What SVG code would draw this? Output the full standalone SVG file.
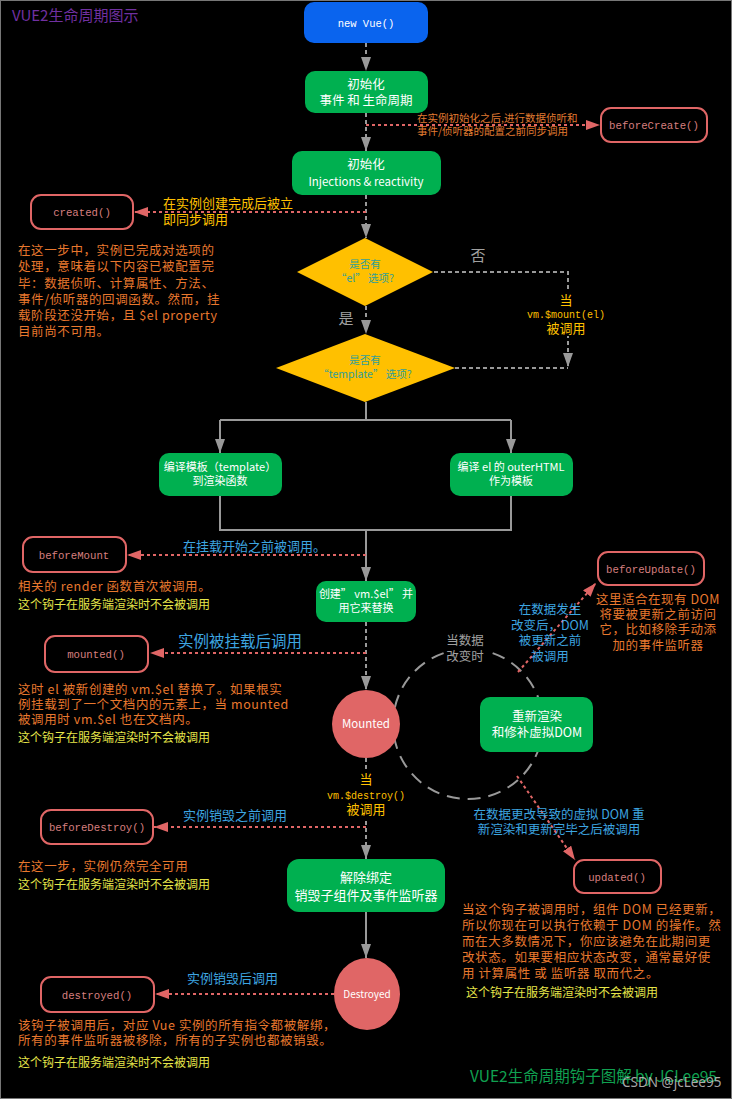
<svg xmlns="http://www.w3.org/2000/svg" width="732" height="1099" viewBox="0 0 732 1099">
<defs>
<marker id="ag" markerUnits="userSpaceOnUse" markerWidth="14" markerHeight="10" refX="14" refY="5" orient="auto"><path d="M0,0 L14,5 L0,10 z" fill="#999"/></marker>
<marker id="ap" markerUnits="userSpaceOnUse" markerWidth="14" markerHeight="10" refX="14" refY="5" orient="auto"><path d="M0,0 L14,5 L0,10 z" fill="#e06666"/></marker>
</defs>
<style>
text{font-family:"Noto Sans CJK SC","Noto Sans",sans-serif}
.box{fill:#00b050}
.hook{fill:#000;stroke:#e06666;stroke-width:2}
.hk{font-family:"Liberation Mono","DejaVu Sans Mono",monospace;font-size:10.7px;fill:#d67f7f;text-anchor:middle}
.mono{font-family:"Liberation Mono","DejaVu Sans Mono",monospace}
.wt{fill:#fff;font-size:12.5px;text-anchor:middle}
.ws{fill:#fff;font-size:11px;text-anchor:middle}
.or{fill:#e8782e;font-size:12.5px;letter-spacing:0.6px}
.orc{fill:#e8782e;font-size:12.5px;letter-spacing:0.5px;text-anchor:middle}
.yl{fill:#ffc000;font-size:13px}
.ylc{fill:#ffc000;font-size:13px;text-anchor:middle}
.ss{fill:#e6e64a;font-size:12px}
.bl{fill:#3da5e0;font-size:13px}
.blc{fill:#3da5e0;font-size:12.5px;text-anchor:middle}
.dt{fill:#2f9e98;font-size:10.5px;text-anchor:middle}
.gl{fill:#a0a0a0;text-anchor:middle}
.gd{stroke:#999;stroke-width:2;stroke-dasharray:4 3;fill:none}
.gs{stroke:#999;stroke-width:2;fill:none}
.pd{stroke:#e06666;stroke-width:2;stroke-dasharray:3 3;fill:none}
</style>
<rect x="0.5" y="0.5" width="731" height="1098" fill="#000" stroke="#777"/>
<text x="12" y="21" font-size="15" fill="#7030a0">VUE2生命周期图示</text>

<g id="connectors">
<line class="gd" x1="366" y1="43" x2="366" y2="71" marker-end="url(#ag)"/>
<line class="gd" x1="366" y1="113" x2="366" y2="151" marker-end="url(#ag)"/>
<line class="pd" x1="366" y1="125" x2="600" y2="125" marker-end="url(#ap)"/>
<line class="gd" x1="366" y1="195" x2="366" y2="238" marker-end="url(#ag)"/>
<line class="pd" x1="366" y1="212" x2="134" y2="212" marker-end="url(#ap)"/>
<line class="gd" x1="366" y1="306" x2="366" y2="334" marker-end="url(#ag)"/>
<path class="gd" d="M434,272 H568 V367" marker-end="url(#ag)"/>
<line class="gd" x1="455" y1="368" x2="568" y2="368"/>
<path class="gs" d="M366,402 V420 M220,420 H511"/>
<line class="gs" x1="220" y1="420" x2="220" y2="453" marker-end="url(#ag)"/>
<line class="gs" x1="511" y1="420" x2="511" y2="453" marker-end="url(#ag)"/>
<path class="gs" d="M220,496 V530 H511 V496"/>
<line class="gs" x1="366" y1="530" x2="366" y2="581" marker-end="url(#ag)"/>
<line class="pd" x1="366" y1="555" x2="127" y2="555" marker-end="url(#ap)"/>
<line class="gd" x1="366" y1="622" x2="366" y2="690" marker-end="url(#ag)"/>
<line class="pd" x1="366" y1="653" x2="150" y2="653" marker-end="url(#ap)"/>
<circle cx="468" cy="724" r="75" fill="none" stroke="#999" stroke-width="2" stroke-dasharray="13 8"/>
<line class="pd" x1="518" y1="672" x2="596" y2="583" marker-end="url(#ap)"/>
<line class="pd" x1="517" y1="776" x2="575" y2="860" marker-end="url(#ap)"/>
<line class="gd" x1="366" y1="758" x2="366" y2="859" marker-end="url(#ag)"/>
<line class="pd" x1="366" y1="827" x2="154" y2="827" marker-end="url(#ap)"/>
<line class="gs" x1="366" y1="912" x2="366" y2="958" marker-end="url(#ag)"/>
<line class="pd" x1="334" y1="994" x2="155" y2="994" marker-end="url(#ap)"/>

<text x="417" y="122" fill="#e07b30" font-size="10.5">在实例初始化之后,进行数据侦听和</text>
<text x="417" y="135" fill="#e07b30" font-size="10.5">事件/侦听器的配置之前同步调用</text>
<text class="yl" x="163" y="208">在实例创建完成后被立</text>
<text class="yl" x="163" y="224">即同步调用</text>
<text class="gl" x="478" y="261" font-size="15">否</text>
<text class="gl" x="346" y="324" font-size="15">是</text>
<rect x="526" y="290" width="84" height="46" fill="#000"/>
<text class="ylc" x="566" y="305">当</text>
<text class="ylc mono" x="566" y="318" style="font-size:10px">vm.$mount(el)</text>
<text class="ylc" x="566" y="333">被调用</text>
<text class="bl" x="183" y="551">在挂载开始之前被调用。</text>
<text class="bl" x="178" y="647" style="font-size:15.5px">实例被挂载后调用</text>
<rect x="444" y="648" width="44" height="17" fill="#000"/>
<text class="gl" x="465" y="645" font-size="12.5">当数据</text>
<text class="gl" x="465" y="661" font-size="12.5">改变时</text>
<text class="blc" x="550" y="614">在数据发生</text>
<text class="blc" x="550" y="630">改变后，DOM</text>
<text class="blc" x="550" y="645">被更新之前</text>
<text class="blc" x="550" y="661">被调用</text>
<text class="blc" x="559" y="819">在数据更改导致的虚拟 DOM 重</text>
<text class="blc" x="559" y="834">新渲染和更新完毕之后被调用</text>
<rect x="326" y="771" width="82" height="47" fill="#000"/>
<text class="ylc" x="366" y="784">当</text>
<text class="ylc mono" x="366" y="799" style="font-size:10px">vm.$destroy()</text>
<text class="ylc" x="366" y="814">被调用</text>
<text class="bl" x="183" y="820">实例销毁之前调用</text>
<text class="bl" x="187" y="983">实例销毁后调用</text>
</g>

<g id="new-vue">
<rect x="304" y="2" width="124" height="41" rx="10" fill="#0a64ee"/>
<text class="ws mono" x="366" y="27" style="font-size:10.5px">new Vue()</text>
</g>
<g id="init-events">
<rect class="box" x="305" y="71" width="123" height="42" rx="10"/>
<text class="wt" x="366" y="89">初始化</text>
<text class="wt" x="366" y="105">事件 和 生命周期</text>
</g>
<g id="init-injections">
<rect class="box" x="292" y="151" width="149" height="44" rx="10"/>
<text class="wt" x="366" y="169">初始化</text>
<text class="wt" x="366" y="186" style="font-size:11.5px">Injections &amp; reactivity</text>
</g>
<g id="beforeCreate">
<rect class="hook" x="601" y="108" width="106" height="34" rx="10"/>
<text class="hk" x="654" y="129">beforeCreate()</text>
</g>
<g id="created">
<rect class="hook" x="31" y="195" width="102" height="34" rx="10"/>
<text class="hk" x="82" y="216">created()</text>
<text class="or" x="18" y="255">在这一步中，实例已完成对选项的</text>
<text class="or" x="18" y="271">处理，意味着以下内容已被配置完</text>
<text class="or" x="18" y="288">毕：数据侦听、计算属性、方法、</text>
<text class="or" x="18" y="304">事件/侦听器的回调函数。然而，挂</text>
<text class="or" x="18" y="320">载阶段还没开始，且 $el property</text>
<text class="or" x="18" y="336">目前尚不可用。</text>
</g>
<g id="has-el">
<polygon points="365,238 433,272 365,306 297,272" fill="#ffc000"/>
<text class="dt" x="365" y="268">是否有</text>
<text class="dt" x="365" y="282">“el” 选项?</text>
</g>
<g id="has-template">
<polygon points="365,334 455,368 365,402 276,368" fill="#ffc000"/>
<text class="dt" x="365" y="364">是否有</text>
<text class="dt" x="365" y="378">“template” 选项?</text>
</g>
<g id="compile-template">
<rect class="box" x="159" y="453" width="123" height="43" rx="10"/>
<text class="ws" x="220" y="471">编译模板（template）</text>
<text class="ws" x="220" y="485">到渲染函数</text>
</g>
<g id="compile-outer">
<rect class="box" x="450" y="453" width="123" height="43" rx="10"/>
<text class="ws" x="511" y="471">编译 el 的 outerHTML</text>
<text class="ws" x="511" y="485">作为模板</text>
</g>
<g id="beforeMount">
<rect class="hook" x="23" y="537" width="103" height="35" rx="10"/>
<text class="hk" x="74" y="559">beforeMount</text>
<text class="or" x="18" y="591">相关的 render 函数首次被调用。</text>
<text class="ss" x="18" y="609">这个钩子在服务端渲染时不会被调用</text>
</g>
<g id="create-el">
<rect class="box" x="316" y="581" width="100" height="41" rx="10"/>
<text class="ws" x="366" y="598">创建” vm.$el” 并</text>
<text class="ws" x="366" y="612">用它来替换</text>
</g>
<g id="mounted">
<rect class="hook" x="45" y="636" width="103" height="36" rx="10"/>
<text class="hk" x="96" y="658">mounted()</text>
<text class="or" x="18" y="694">这时 el 被新创建的 vm.$el 替换了。如果根实</text>
<text class="or" x="18" y="709">例挂载到了一个文档内的元素上，当 mounted</text>
<text class="or" x="18" y="724">被调用时 vm.$el 也在文档内。</text>
<text class="ss" x="18" y="742">这个钩子在服务端渲染时不会被调用</text>
</g>
<g id="mounted-state">
<circle cx="366" cy="724" r="34" fill="#e06666"/>
<text x="366" y="728" fill="#fff" font-size="11.5" text-anchor="middle">Mounted</text>
</g>
<g id="rerender">
<rect class="box" x="480" y="697" width="113" height="55" rx="10"/>
<text class="wt" x="537" y="721">重新渲染</text>
<text class="wt" x="537" y="737">和修补虚拟DOM</text>
</g>
<g id="beforeUpdate">
<rect class="hook" x="598" y="552" width="106" height="33" rx="10"/>
<text class="hk" x="651" y="573">beforeUpdate()</text>
<text class="orc" x="658" y="604">这里适合在现有 DOM</text>
<text class="orc" x="658" y="619">将要被更新之前访问</text>
<text class="orc" x="658" y="634">它，比如移除手动添</text>
<text class="orc" x="658" y="650">加的事件监听器</text>
</g>
<g id="updated">
<rect class="hook" x="574" y="860" width="87" height="33" rx="10"/>
<text class="hk" x="617" y="881">updated()</text>
<text class="or" x="462" y="914">当这个钩子被调用时，组件 DOM 已经更新，</text>
<text class="or" x="462" y="930">所以你现在可以执行依赖于 DOM 的操作。然</text>
<text class="or" x="462" y="946">而在大多数情况下，你应该避免在此期间更</text>
<text class="or" x="462" y="962">改状态。如果要相应状态改变，通常最好使</text>
<text class="or" x="462" y="978">用 计算属性 或 监听器 取而代之。</text>
<text class="ss" x="466" y="997">这个钩子在服务端渲染时不会被调用</text>
</g>
<g id="beforeDestroy">
<rect class="hook" x="41" y="810" width="112" height="34" rx="10"/>
<text class="hk" x="97" y="831">beforeDestroy()</text>
<text class="or" x="18" y="871">在这一步，实例仍然完全可用</text>
<text class="ss" x="18" y="889">这个钩子在服务端渲染时不会被调用</text>
</g>
<g id="teardown">
<rect class="box" x="287" y="859" width="158" height="53" rx="12"/>
<text class="wt" x="366" y="882" style="font-size:13px">解除绑定</text>
<text class="wt" x="366" y="900" style="font-size:13px">销毁子组件及事件监听器</text>
</g>
<g id="destroyed-state">
<ellipse cx="367" cy="994" rx="33" ry="36" fill="#e06666"/>
<text x="367" y="998" fill="#fff" font-size="10" text-anchor="middle">Destroyed</text>
</g>
<g id="destroyed">
<rect class="hook" x="41" y="977" width="113" height="35" rx="10"/>
<text class="hk" x="97" y="999">destroyed()</text>
<text class="or" x="18" y="1030">该钩子被调用后，对应 Vue 实例的所有指令都被解绑，</text>
<text class="or" x="18" y="1045">所有的事件监听器被移除，所有的子实例也都被销毁。</text>
<text class="ss" x="18" y="1067">这个钩子在服务端渲染时不会被调用</text>
</g>
<text x="470" y="1082" font-size="15.5" fill="#10a050">VUE2生命周期钩子图解 by JCLee95</text>
<text x="622" y="1087" font-size="13.5" fill="#c8c8c8" fill-opacity="0.85" style="font-family:'Noto Sans',sans-serif">CSDN @jcLee95</text>
</svg>
